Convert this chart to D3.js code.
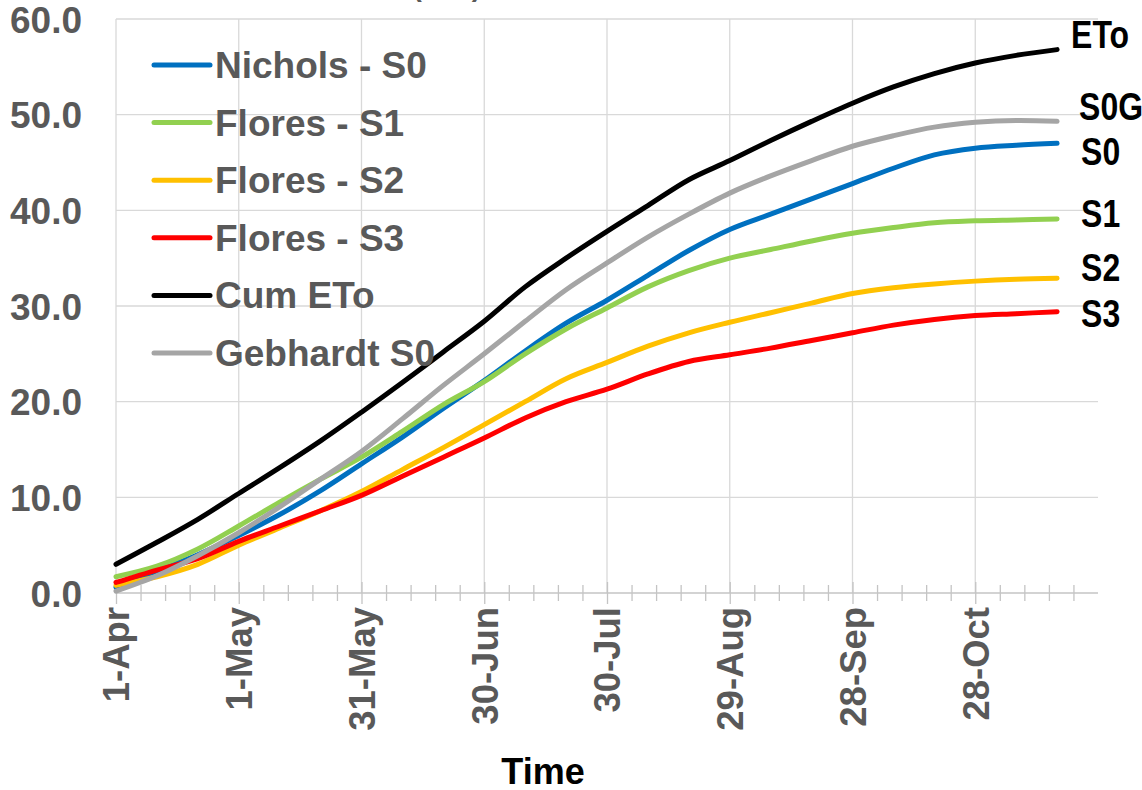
<!DOCTYPE html>
<html>
<head>
<meta charset="utf-8">
<script src="https://cdn.jsdelivr.net/npm/d3@7"></script>
<style>
  html, body { margin: 0; padding: 0; background: #fff; }
  svg { display: block; font-family: "Liberation Sans", Arial, sans-serif; }
</style>
</head>
<body>
<svg id="chart" width="1142" height="790"></svg>
<script>
// Days after 1 April at which each series is sampled
const sampleDays = [0, 10, 20, 30, 40, 50, 60, 70, 80, 90, 100, 110, 120, 130, 140, 150, 160, 170, 180, 190, 200, 210, 220, 230];

// Cumulative water use (mm) per series
const nicholsS0  = [0.6, 2.3, 4.0, 6.0, 8.2, 10.7, 13.5, 16.3, 19.3, 22.2, 25.3, 28.2, 30.6, 33.2, 35.8, 38.0, 39.6, 41.2, 42.8, 44.4, 45.8, 46.5, 46.8, 47.0];
const floresS1   = [1.7, 2.8, 4.6, 7.0, 9.5, 11.9, 14.2, 16.9, 19.7, 22.1, 25.0, 27.6, 29.8, 32.0, 33.7, 35.0, 35.9, 36.8, 37.6, 38.2, 38.7, 38.9, 39.0, 39.1];
const floresS2   = [0.8, 1.7, 3.0, 5.0, 6.8, 8.6, 10.6, 12.9, 15.2, 17.6, 20.0, 22.4, 24.1, 25.8, 27.2, 28.3, 29.3, 30.3, 31.3, 31.9, 32.3, 32.6, 32.8, 32.9];
const floresS3   = [1.1, 2.4, 3.6, 5.4, 7.0, 8.6, 10.2, 12.2, 14.2, 16.2, 18.3, 20.0, 21.3, 22.9, 24.2, 24.9, 25.6, 26.4, 27.2, 28.0, 28.6, 29.0, 29.2, 29.4];
const cumETo     = [3.0, 5.3, 7.7, 10.4, 13.1, 15.9, 18.9, 22.0, 25.2, 28.4, 32.0, 35.0, 37.8, 40.5, 43.2, 45.2, 47.3, 49.3, 51.2, 52.9, 54.3, 55.4, 56.2, 56.8];
const gebhardtS0 = [0.2, 1.8, 3.9, 6.3, 9.0, 11.9, 14.8, 18.2, 21.7, 25.0, 28.4, 31.7, 34.5, 37.2, 39.6, 41.8, 43.6, 45.2, 46.7, 47.8, 48.7, 49.2, 49.4, 49.3];

const seriesNames = ["Nichols - S0", "Flores - S1", "Flores - S2", "Flores - S3", "Cum ETo", "Gebhardt S0"];
const endLabels   = ["S0", "S1", "S2", "S3", "ETo", "S0G"];
const seriesColors = ["#0070c0", "#92d050", "#ffc000", "#ff0000", "#000000", "#a5a5a5"];

// Axis ticks
const xTickDates = ["2019-04-01", "2019-05-01", "2019-05-31", "2019-06-30", "2019-07-30", "2019-08-29", "2019-09-28", "2019-10-28"];
const yTicks = [0, 10, 20, 30, 40, 50, 60];
const xTitle = "Time";
const yTitle = "Cumulative ET (mm)";

// ---- layout & styling ----
const svg = d3.select("#chart");
const startDate = new Date(2019, 3, 1);
const endDate = d3.timeDay.offset(startDate, 240);
const plot = { left: 116, right: 1098, top: 19, bottom: 593 };
const gridColor = "#d9d9d9";
const axisColor = "#c4c4c4";
const textGray = "#595959";

const x = d3.scaleTime().domain([startDate, endDate]).range([plot.left, plot.right]);
const y = d3.scaleLinear().domain([0, 60]).range([plot.bottom, plot.top]);

const parseDay = d3.timeParse("%Y-%m-%d");
const majorDates = xTickDates.map(parseDay);
const minorDates = d3.range(0, 240, 6).map(d => d3.timeDay.offset(startDate, d))
  .filter(d => !majorDates.some(m => +m === +d));

// horizontal gridlines
svg.append("g").selectAll("line").data(yTicks.filter(v => v > 0)).join("line")
  .attr("x1", plot.left).attr("x2", plot.right)
  .attr("y1", d => y(d)).attr("y2", d => y(d))
  .attr("stroke", gridColor).attr("stroke-width", 1.3);

// vertical gridlines at major dates
svg.append("g").selectAll("line").data(majorDates).join("line")
  .attr("x1", d => x(d)).attr("x2", d => x(d))
  .attr("y1", plot.top).attr("y2", plot.bottom)
  .attr("stroke", gridColor).attr("stroke-width", 1.3);

// minor ticks (crossing the axis)
const minorAxis = svg.append("g").attr("transform", `translate(0,${plot.bottom})`)
  .call(d3.axisBottom(x).tickValues(minorDates).tickFormat("").tickSizeOuter(0));
minorAxis.select(".domain").remove();
minorAxis.selectAll(".tick line").attr("y1", -8).attr("y2", 8)
  .attr("stroke", axisColor).attr("stroke-width", 1.3);

// major axis with labels
const xAxis = svg.append("g").attr("transform", `translate(0,${plot.bottom})`)
  .call(d3.axisBottom(x).tickValues(majorDates).tickFormat(d3.timeFormat("%-d-%b")).tickSizeOuter(0));
xAxis.select(".domain").attr("stroke", axisColor).attr("stroke-width", 1.6)
  .attr("d", `M${plot.left},0H${plot.right}`);
xAxis.selectAll(".tick line").attr("y1", -11).attr("y2", 11)
  .attr("stroke", axisColor).attr("stroke-width", 1.3);
xAxis.selectAll(".tick text")
  .attr("transform", "rotate(-90)")
  .attr("text-anchor", "end")
  .attr("x", -14).attr("y", 0).attr("dy", "0.35em")
  .attr("fill", textGray).attr("font-size", 36.5).attr("font-weight", "bold")
  .attr("font-family", "Liberation Sans, Arial, sans-serif");

// y axis labels
const yAxis = svg.append("g").attr("transform", `translate(${plot.left},0)`)
  .call(d3.axisLeft(y).tickValues(yTicks).tickFormat(d3.format(".1f")).tickSize(0).tickPadding(34));
yAxis.select(".domain").remove();
yAxis.selectAll(".tick text")
  .attr("dy", "0.36em")
  .attr("fill", textGray).attr("font-size", 37).attr("font-weight", "bold")
  .attr("font-family", "Liberation Sans, Arial, sans-serif");

// axis titles
svg.append("text").attr("x", 543).attr("y", 784).attr("text-anchor", "middle")
  .attr("font-size", 36).attr("font-weight", "bold").attr("fill", "#000").text(xTitle);
svg.append("text").attr("x", 481).attr("y", -4).attr("text-anchor", "end")
  .attr("font-size", 28).attr("font-weight", "bold").attr("fill", textGray).text(yTitle);

// series lines
const seriesData = [nicholsS0, floresS1, floresS2, floresS3, cumETo, gebhardtS0];
const line = d3.line()
  .x((d, i) => x(d3.timeDay.offset(startDate, sampleDays[i])))
  .y(d => y(d))
  .curve(d3.curveCatmullRom.alpha(0.5));

svg.append("g").selectAll("path").data(seriesData).join("path")
  .attr("d", d => line(d))
  .attr("fill", "none")
  .attr("stroke", (d, i) => seriesColors[i])
  .attr("stroke-width", 5)
  .attr("stroke-linecap", "round")
  .attr("stroke-linejoin", "round");

// end-of-line labels (offsets in px from the last point)
const labelOffsets = [[24, 22], [24, 8], [24, 3], [24, 15], [14, -2], [22, -1]];
const lastDate = d3.timeDay.offset(startDate, sampleDays[sampleDays.length - 1]);
svg.append("g").selectAll("text").data(seriesData).join("text")
  .attr("transform", (d, i) =>
    `translate(${x(lastDate) + labelOffsets[i][0]},${y(d[d.length - 1]) + labelOffsets[i][1]}) scale(0.82,1)`)
  .attr("font-size", 39).attr("font-weight", "bold").attr("fill", "#000")
  .text((d, i) => endLabels[i]);

// legend
const legend = svg.append("g").attr("transform", "translate(154,65)");
const legendItems = legend.selectAll("g").data(seriesNames).join("g")
  .attr("transform", (d, i) => `translate(0,${i * 57.6})`);
legendItems.append("line")
  .attr("x1", 0).attr("x2", 56).attr("y1", 0).attr("y2", 0)
  .attr("stroke", (d, i) => seriesColors[i]).attr("stroke-width", 5)
  .attr("stroke-linecap", "round");
legendItems.append("text")
  .attr("x", 61).attr("y", 13)
  .attr("font-size", 37).attr("font-weight", "bold").attr("fill", textGray)
  .text(d => d);
</script>
</body>
</html>
